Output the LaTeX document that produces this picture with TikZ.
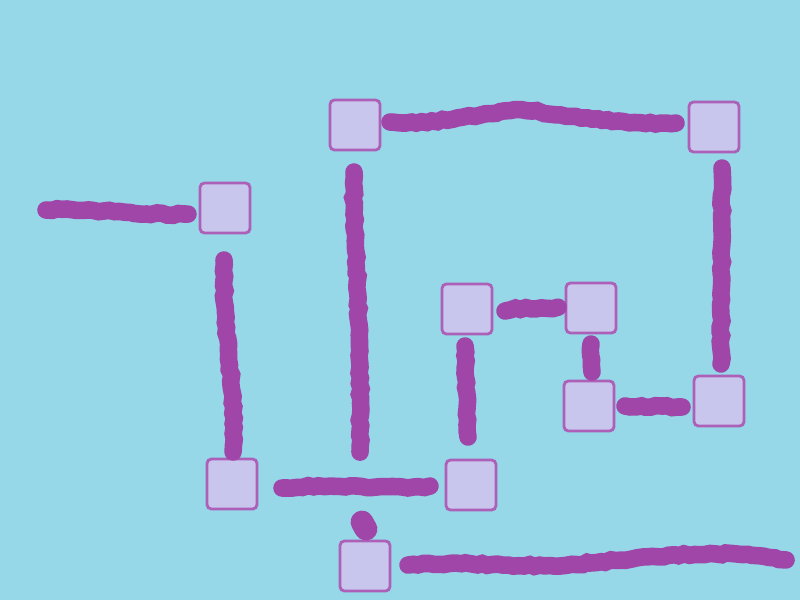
\documentclass[tikz,border=0pt]{standalone}
\usetikzlibrary{decorations.pathmorphing}
\definecolor{bg}{RGB}{150,215,232}
\definecolor{stroke}{RGB}{160,70,168}
\definecolor{boxfill}{RGB}{200,198,236}
\definecolor{boxline}{RGB}{172,96,184}
\tikzset{
  sq/.style={draw=boxline, line width=1.6pt, fill=boxfill, rounded corners=2.5pt,
    minimum width=1cm, minimum height=1cm, inner sep=0pt},
  brush/.style={draw=stroke, line width=10pt, line cap=round,
    decorate, decoration={random steps, segment length=3pt, amplitude=0.6pt}},
}
\begin{document}
\begin{tikzpicture}[x=0.02cm, y=-0.02cm]
\fill[bg] (0,0) rectangle (800,600);
\useasboundingbox (0,0) rectangle (800,600);
% boxes
\node[sq] (b1) at (355,125) {};
\node[sq] (b2) at (714,127) {};
\node[sq] (b3) at (225,208) {};
\node[sq] (b4) at (467,309) {};
\node[sq] (b5) at (591,308) {};
\node[sq] (b6) at (589,406) {};
\node[sq] (b7) at (719,401) {};
\node[sq] (b8) at (232,484) {};
\node[sq] (b9) at (471,485) {};
\node[sq] (b10) at (365,566) {};
% stroke end points
\coordinate (a1) at (46,210);   \coordinate (a2) at (188,214);
\coordinate (c1) at (390,122);  \coordinate (c2) at (676,123);
\coordinate (d1) at (354,172);  \coordinate (d2) at (360,452);
\coordinate (e1) at (722,168);  \coordinate (e2) at (721,364);
\coordinate (f1) at (224,260);  \coordinate (f2) at (233,452);
\coordinate (g1) at (505,311);  \coordinate (g2) at (558,307);
\coordinate (h1) at (591,344);  \coordinate (h2) at (592,372);
\coordinate (i1) at (625,406);  \coordinate (i2) at (682,407);
\coordinate (j1) at (465,346);  \coordinate (j2) at (468,437);
\coordinate (k1) at (282,488);  \coordinate (k2) at (430,486);
\coordinate (l1) at (362,522);  \coordinate (l2) at (366,529);
\coordinate (m1) at (408,565);  \coordinate (m2) at (786,560);
% strokes
\draw[brush] (a1) .. controls (100,208) and (150,216) .. (a2);
\draw[brush] (c1) .. controls (460,125) and (500,105) .. (540,112)
                  .. controls (590,120) and (640,125) .. (c2);
\draw[brush] (d1) .. controls (352,230) and (362,300) .. (d2);
\draw[brush] (e1) -- (e2);
\draw[brush] (f1) .. controls (222,330) and (236,380) .. (f2);
\draw[brush] (g1) .. controls (525,306) and (540,310) .. (g2);
\draw[brush] (h1) -- (h2);
\draw[brush] (i1) -- (i2);
\draw[brush] (j1) -- (j2);
\draw[brush] (k1) .. controls (330,484) and (380,490) .. (k2);
\draw[brush, line width=13pt] (l1) -- (l2);
\draw[brush] (m1) .. controls (470,560) and (520,570) .. (590,563)
                  .. controls (660,556) and (720,548) .. (m2);
\end{tikzpicture}
\end{document}
